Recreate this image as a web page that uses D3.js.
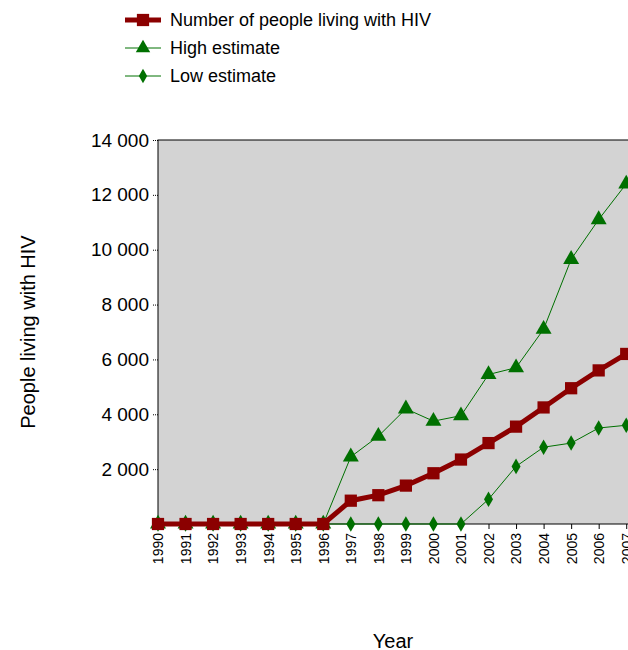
<!DOCTYPE html>
<html lang="en">
<meta charset="utf-8">
<head>
<script src="https://d3js.org/d3.v7.min.js"></script>
<style>body{margin:0;background:#fff}text{font-family:Arial,"Liberation Sans",sans-serif}</style>
</head>
<body>
<div id="chart"></div>
<script>
var years = [1990,1991,1992,1993,1994,1995,1996,1997,1998,1999,2000,2001,2002,2003,2004,2005,2006,2007];
var people = [0,0,0,0,0,0,0,850,1050,1400,1850,2350,2950,3550,4250,4950,5600,6200];
var high = [0,0,0,0,0,0,0,2450,3200,4200,3750,3950,5450,5700,7100,9650,11100,12400];
var low = [0,0,0,0,0,0,0,0,0,0,0,0,900,2100,2800,2950,3500,3600];
var yTicks = [2000,4000,6000,8000,10000,12000,14000];

var W = 628, H = 650;
var svg = d3.select("#chart").append("svg").attr("width", W).attr("height", H);
var pLeft = 158, pTop = 140, pBottom = 524, pRight = 640;

var x = d3.scaleLinear().domain([1990, 2007.5]).range([pLeft, pRight]);
var y = d3.scaleLinear().domain([0, 14000]).range([pBottom, pTop]);

svg.append("rect").attr("x", pLeft).attr("y", pTop).attr("width", pRight - pLeft).attr("height", pBottom - pTop)
  .attr("fill", "#d3d3d3").attr("stroke", "#000");

var fmt = function(d){ return d3.format(",")(d).replace(",", " "); };
var ya = svg.append("g").attr("transform", "translate(" + pLeft + ",0)")
  .call(d3.axisLeft(y).tickValues(yTicks).tickFormat(fmt).tickSize(6));
ya.select(".domain").remove();
ya.selectAll("line").attr("stroke-dasharray", "1,1");
ya.selectAll("text").attr("font-size", 19).attr("fill", "#000");

var xa = svg.append("g").attr("transform", "translate(0," + pBottom + ")")
  .call(d3.axisBottom(x).tickValues(years).tickFormat(d3.format("d")).tickSize(5));
xa.select(".domain").remove();
xa.selectAll("text").attr("font-size", 14).attr("fill", "#000")
  .attr("transform", "rotate(-90)").attr("text-anchor", "end")
  .attr("x", -9).attr("y", 0).attr("dy", "0.35em");

svg.append("text").attr("transform", "translate(28,332) rotate(-90)").attr("text-anchor", "middle")
  .attr("dy", "0.35em").attr("font-size", 20).text("People living with HIV");
svg.append("text").attr("x", 393).attr("y", 648).attr("text-anchor", "middle").attr("font-size", 20).text("Year");

var green = "#007000", red = "#8b0000";
var line = d3.line().x(function(d, i){ return x(years[i]); }).y(function(d){ return y(d); });

function series(data, color, width, sym, size) {
  svg.append("path").datum(data).attr("d", line).attr("fill", "none").attr("stroke", color).attr("stroke-width", width);
  svg.selectAll(null).data(data).enter().append("path")
    .attr("transform", function(d, i){ return "translate(" + x(years[i]) + "," + y(d) + ")"; })
    .attr("d", d3.symbol().type(sym).size(size)).attr("fill", color);
}
series(high, green, 1, d3.symbolTriangle, 110);
series(low, green, 1, d3.symbolDiamond, 70);
series(people, red, 5, d3.symbolSquare, 150);

var legend = [
  {label: "Number of people living with HIV", color: red, w: 5, sym: d3.symbolSquare, size: 150},
  {label: "High estimate", color: green, w: 1, sym: d3.symbolTriangle, size: 90},
  {label: "Low estimate", color: green, w: 1, sym: d3.symbolDiamond, size: 60}
];
legend.forEach(function(l, i){
  var ly = 20 + i * 28;
  svg.append("line").attr("x1", 125).attr("x2", 161).attr("y1", ly).attr("y2", ly).attr("stroke", l.color).attr("stroke-width", l.w);
  svg.append("path").attr("transform", "translate(143," + ly + ")").attr("d", d3.symbol().type(l.sym).size(l.size)).attr("fill", l.color);
  svg.append("text").attr("x", 170).attr("y", ly).attr("dy", "0.35em").attr("font-size", 18).text(l.label);
});
</script>
</body>
</html>
